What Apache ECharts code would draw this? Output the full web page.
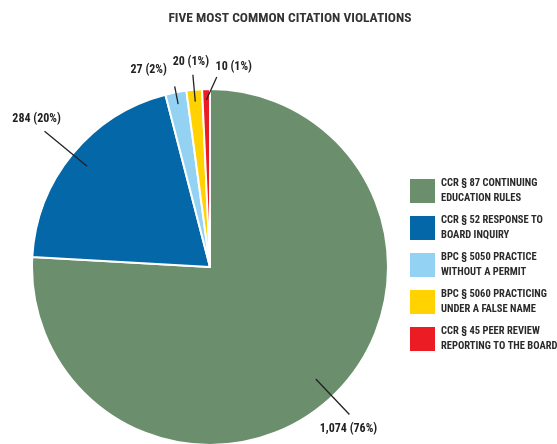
<!DOCTYPE html>
<html>
<head>
<meta charset="utf-8">
<script src="https://cdn.jsdelivr.net/npm/echarts@6/dist/echarts.min.js"></script>
<style>
	html, body { margin: 0; padding: 0; background: #fff; }
	#main { width: 557px; height: 444px; }
</style>
</head>
<body>
<div id="main"></div>
<script>
// 数据
var categories = [ 'CCR § 87 CONTINUING\nEDUCATION RULES', 'CCR § 52 RESPONSE TO\nBOARD INQUIRY',
		'BPC § 5050 PRACTICE\nWITHOUT A PERMIT', 'BPC § 5060 PRACTICING\nUNDER A FALSE NAME',
		'CCR § 45 PEER REVIEW\nREPORTING TO THE BOARD' ];
var counts = [ 1074, 284, 27, 20, 10 ];
var colors = [ '#6b8e6c', '#0467a7', '#93d2f3', '#ffd200', '#ec1c24' ];

var FONT = '"Roboto Condensed", "Liberation Sans", sans-serif';
var CX = 210, CY = 267, R = 178;

// 标签引线：向内长度、向外长度、末端横移、文字偏移
var lineIn = [ 24, 19, 12, 12, 11 ];
var lineOut = [ 25, 36, 6, 15, 12 ];
var lineShift = [ 0, 0, 0, 0, 11 ];
var textDx = [ -1, -8, -26, -2, 17 ];
var textDy = [ 14, -12, -16, -13, -10 ];

function drawCitationPie(documentId) {
	var pieData = [];
	var labelData = [];
	for ( var i = 0; i < categories.length; i++) {
		pieData.push({
			name : categories[i],
			value : counts[i],
			itemStyle : { color : colors[i] }
		});
		labelData.push({
			name : categories[i],
			value : counts[i]
		});
	}

	var myChart = echarts.init(document.getElementById(documentId));

	var option = {
		title : {
			text : 'FIVE MOST COMMON CITATION VIOLATIONS',
			left : 285,
			textAlign : 'center',
			top : 7,
			textStyle : {
				fontFamily : FONT,
				fontSize : 13.5,
				fontWeight : 'bold',
				color : '#333'
			}
		},
		legend : { // 图例
			orient : 'vertical',
			left : 408,
			top : 176,
			padding : 0,
			itemWidth : 27,
			itemHeight : 26,
			itemGap : 7,
			icon : 'rect',
			data : categories,
			textStyle : {
				fontFamily : FONT,
				fontSize : 10.5,
				fontWeight : 'bold',
				lineHeight : 15,
				color : '#2a2a2a'
			}
		},
		series : [ {
			// 扇区
			type : 'pie',
			z : 2,
			center : [ CX, CY ],
			radius : R,
			startAngle : 90,
			clockwise : true,
			itemStyle : {
				borderColor : '#fff',
				borderWidth : 2
			},
			label : { show : false },
			labelLine : { show : false },
			emphasis : { disabled : true },
			data : pieData
		}, {
			// 透明覆盖层，只画标签和引线（压在扇区上方）
			type : 'pie',
			z : 3,
			silent : true,
			center : [ CX, CY ],
			radius : R,
			startAngle : 90,
			clockwise : true,
			percentPrecision : 0,
			avoidLabelOverlap : false,
			itemStyle : {
				color : 'rgba(0,0,0,0)',
				borderWidth : 0
			},
			label : {
				show : true,
				position : 'outside',
				fontFamily : FONT,
				fontSize : 12,
				fontWeight : 'bold',
				color : '#222',
				formatter : function(p) {
					return echarts.format.addCommas(p.value) + ' (' + p.percent + '%)';
				}
			},
			labelLine : {
				show : true,
				showAbove : true,
				length : 10,
				length2 : 0,
				lineStyle : { color : '#222', width : 1.3 }
			},
			labelLayout : function(p) {
				var i = p.dataIndex;
				var pt = p.labelLinePoints[0];
				var dx = pt[0] - CX, dy = pt[1] - CY;
				var d = Math.sqrt(dx * dx + dy * dy);
				var ux = dx / d, uy = dy / d;
				var s = [ CX + ux * (R - lineIn[i]), CY + uy * (R - lineIn[i]) ];
				var e = [ CX + ux * (R + lineOut[i]) + lineShift[i], CY + uy * (R + lineOut[i]) ];
				return {
					x : e[0] + textDx[i],
					y : e[1] + textDy[i],
					align : 'center',
					verticalAlign : 'middle',
					labelLinePoints : [ s, e, e ]
				};
			},
			emphasis : { disabled : true },
			data : labelData
		} ]
	};

	myChart.setOption(option);
}

drawCitationPie('main');
</script>
</body>
</html>
